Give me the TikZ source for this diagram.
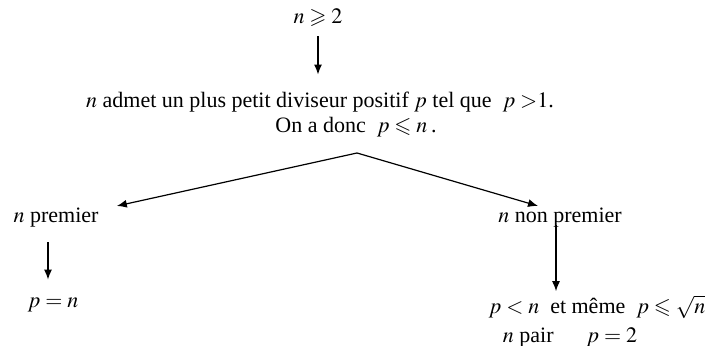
\documentclass[tikz,border=0pt]{standalone}
\usepackage{amssymb}
\usepackage{mathptmx}
\usepackage{fontspec}
\setmainfont{Liberation Serif}
\usetikzlibrary{arrows.meta,calc}
\tikzset{fl/.style={-{Latex[length=5pt,width=4pt]},line width=0.6pt},
  txt/.style={inner sep=0pt}}

\begin{document}
\begin{tikzpicture}[x=0.5pt,y=-0.5pt,font=\fontsize{11}{13}\selectfont]
\useasboundingbox (0,0) rectangle (706,346);
%\draw[help lines,step=50] (0,0) grid (706,346);

\node[txt] (nge) at (318,18) {$n\geqslant 2$};
\node[txt] (admet) at (320,102) {$n$ admet un plus petit diviseur positif $p$ tel que\ \ $p\;{>}1$.};
\node[txt] (donc) at (356,127) {On a donc\ \ $p\leqslant n$\,.};
\coordinate (fourche) at (357,153);
\node[txt] (prem) at (56,218) {$n$ premier};
\node[txt] (peqn) at (53,305) {$p=n$};
\node[txt] (nonprem) at (560,218) {$n$ non premier};
\node[txt] (pinf) at (597,307) {$p<n$\ \ et même\ \ $p\leqslant\sqrt{n}$};
\node[txt] (pair) at (570,337) {$n$ pair\quad\ \ $p=2$};

\draw[fl] ($(nge.south)+(0,9)$) -- ($(nge.south |- admet.north)+(0,-17)$);
\draw[fl] (fourche) -- ($(prem.north east)+(18,-2)$);
\draw[fl] (fourche) -- ($(nonprem.north)+(-22,-2)$);
\draw[fl] ($(prem.south)+(-8,14)$) -- ($(prem.south |- peqn.north)+(-8,-18)$);
\draw[fl] ($(nonprem.center)+(-4,7)$) -- ($(nonprem.center |- pinf.north)+(-4,-4)$);
\end{tikzpicture}
\end{document}
